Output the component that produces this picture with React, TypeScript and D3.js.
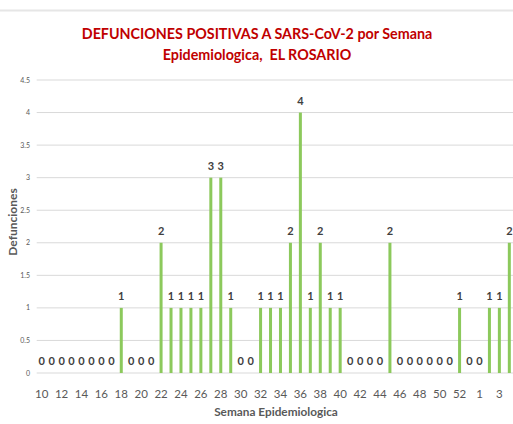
import React, { useRef, useEffect } from 'react';
import * as d3 from 'd3';

// semanas epidemiologicas (10..53 y luego 1..4 del año siguiente)
const weeks: string[] = [
    '10', '11', '12', '13', '14', '15', '16', '17', '18', '19', '20', '21',
    '22', '23', '24', '25', '26', '27', '28', '29', '30', '31', '32', '33',
    '34', '35', '36', '37', '38', '39', '40', '41', '42', '43', '44', '45',
    '46', '47', '48', '49', '50', '51', '52', '53', '1', '2', '3', '4',
];

const deaths: number[] = [
    0, 0, 0, 0, 0, 0, 0, 0, 1, 0, 0, 0,
    2, 1, 1, 1, 1, 3, 3, 1, 0, 0, 1, 1,
    1, 2, 4, 1, 2, 1, 1, 0, 0, 0, 0, 2,
    0, 0, 0, 0, 0, 0, 1, 0, 0, 1, 1, 2,
];

const yTicks: number[] = [0, 0.5, 1, 1.5, 2, 2.5, 3, 3.5, 4, 4.5];

const titleLines: string[] = [
    'DEFUNCIONES POSITIVAS A SARS-CoV-2 por Semana',
    'Epidemiologica,  EL ROSARIO',
];

const W = 513;
const H = 424;
const FONT = 'Lato, "Open Sans", sans-serif';

const App: React.FC = () => {
    const svgRef = useRef<SVGSVGElement>(null);

    useEffect(() => {
        const svg = d3.select(svgRef.current);
        svg.selectAll('*').remove();

        const margin = { top: 80, right: -1.3, bottom: 51, left: 36.7 };

        const x = d3.scaleBand<string>()
            .domain(weeks)
            .range([margin.left, W - margin.right]);

        const y = d3.scaleLinear()
            .domain([0, 4.5])
            .range([H - margin.bottom, margin.top]);

        // top border line
        svg.append('line')
            .attr('x1', 0).attr('x2', W)
            .attr('y1', 10.5).attr('y2', 10.5)
            .attr('stroke', '#e6e6e6')
            .attr('stroke-width', 2);

        // title
        svg.append('g')
            .selectAll('text')
            .data(titleLines)
            .join('text')
            .attr('x', 257)
            .attr('y', (d, i) => 38.5 + i * 21.5)
            .attr('text-anchor', 'middle')
            .attr('font-family', FONT)
            .attr('font-weight', 'bold')
            .attr('font-size', 14.3)
            .attr('fill', '#c00000')
            .style('white-space', 'pre')
            .text(d => d);

        // gridlines
        svg.append('g')
            .selectAll('line')
            .data(yTicks)
            .join('line')
            .attr('x1', margin.left)
            .attr('x2', W)
            .attr('y1', d => y(d))
            .attr('y2', d => y(d))
            .attr('stroke', '#d9d9d9')
            .attr('stroke-width', 1);

        // y tick labels
        svg.append('g')
            .selectAll('text')
            .data(yTicks)
            .join('text')
            .attr('x', 30)
            .attr('y', d => y(d) + 2.5)
            .attr('text-anchor', 'end')
            .attr('font-family', FONT)
            .attr('font-size', 7)
            .attr('fill', '#595959')
            .text(d => String(d));

        // bars
        const barW = 3;
        svg.append('g')
            .selectAll('rect')
            .data(deaths)
            .join('rect')
            .attr('x', (d, i) => (x(weeks[i]) ?? 0) + x.bandwidth() / 2 - barW / 2)
            .attr('y', d => y(d))
            .attr('width', barW)
            .attr('height', d => y(0) - y(d))
            .attr('fill', '#8cc95c');

        // value labels
        svg.append('g')
            .selectAll('text')
            .data(deaths)
            .join('text')
            .attr('x', (d, i) => (x(weeks[i]) ?? 0) + x.bandwidth() / 2)
            .attr('y', d => y(d) - 8)
            .attr('text-anchor', 'middle')
            .attr('font-family', FONT)
            .attr('font-weight', 'bold')
            .attr('font-size', 11)
            .attr('fill', '#404040')
            .text(d => String(d));

        // x tick labels (every second week)
        svg.append('g')
            .selectAll('text')
            .data(weeks.filter((d, i) => i % 2 === 0))
            .join('text')
            .attr('x', d => (x(d) ?? 0) + x.bandwidth() / 2)
            .attr('y', 398)
            .attr('text-anchor', 'middle')
            .attr('font-family', FONT)
            .attr('font-size', 11.5)
            .attr('fill', '#595959')
            .text(d => d);

        // axis titles
        svg.append('text')
            .attr('x', 276)
            .attr('y', 416)
            .attr('text-anchor', 'middle')
            .attr('font-family', FONT)
            .attr('font-weight', 'bold')
            .attr('font-size', 11.8)
            .attr('fill', '#595959')
            .text('Semana Epidemiologica');

        svg.append('text')
            .attr('transform', 'translate(17,222) rotate(-90)')
            .attr('text-anchor', 'middle')
            .attr('font-family', FONT)
            .attr('font-weight', 'bold')
            .attr('font-size', 12)
            .attr('fill', '#595959')
            .text('Defunciones');
    }, []);

    return (
        <svg
            ref={svgRef}
            width={W}
            height={H}
            style={{ position: 'absolute', left: 0, top: 0, background: '#fff' }}
        ></svg>
    );
};

export default App;
